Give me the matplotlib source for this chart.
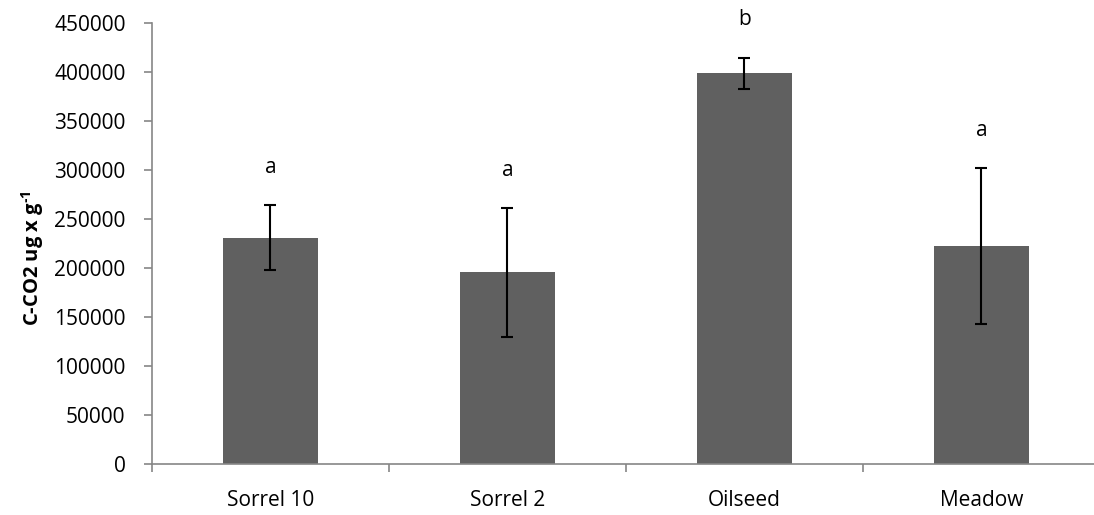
import matplotlib.pyplot as plt

plt.rcParams['font.family'] = ['Open Sans', 'DejaVu Sans']
plt.rcParams['mathtext.fontset'] = 'custom'
plt.rcParams['mathtext.rm'] = 'Open Sans'
plt.rcParams['mathtext.bf'] = 'Open Sans:bold'

# C-CO2 per site, mean and error
sites = ['Sorrel 10', 'Sorrel 2', 'Oilseed', 'Meadow']
co2_mean = [231000, 195500, 398500, 222500]
co2_err = [33000, 65500, 16200, 79500]
groups = ['a', 'a', 'b', 'a']
y_ticks = [0, 50000, 100000, 150000, 200000, 250000, 300000, 350000, 400000, 450000]

fig = plt.figure(figsize=(10.94, 5.15), dpi=100)
ax = fig.add_axes([152 / 1094, 51 / 515, 942 / 1094, 441 / 515])

x = list(range(len(sites)))
ax.bar(x, co2_mean, width=0.4, color='#606060', zorder=2)
ax.errorbar(x, co2_mean, yerr=co2_err, fmt='none', ecolor='black',
            elinewidth=1.5, capsize=4.5, capthick=1.5, zorder=3)

# significance letters above the error bars
for xi, m, e, g in zip(x, co2_mean, co2_err, groups):
    ax.annotate(g, xy=(xi, m + e), xytext=(0, 38), textcoords='offset pixels',
                ha='center', va='center', fontsize=15, annotation_clip=False)

ax.set_xlim(-0.5, 3.475)
ax.set_ylim(0, 450000)
ax.set_yticks(y_ticks)
ax.set_yticklabels([str(v) for v in y_ticks])

# category labels centred, tick marks between categories
ax.set_xticks(x)
ax.set_xticklabels(sites)
ax.tick_params(axis='x', which='major', length=0, pad=19, labelsize=15)
ax.set_xticks([-0.5, 0.5, 1.5, 2.5], minor=True)
ax.tick_params(axis='x', which='minor', length=6, width=1.2, color='#868686')
ax.tick_params(axis='y', length=6, width=1.2, color='#868686', pad=13, labelsize=15)

for side in ['top', 'right']:
    ax.spines[side].set_visible(False)
for side in ['left', 'bottom']:
    ax.spines[side].set_color('#868686')
    ax.spines[side].set_linewidth(1.2)

ax.set_ylabel('C-CO2 ug x g$^{\\mathbf{\u20101}}$', fontsize=14.5, fontweight='bold')
ax.yaxis.set_label_coords(-0.113, 0.467)

fig.savefig('out.png', dpi=100)
